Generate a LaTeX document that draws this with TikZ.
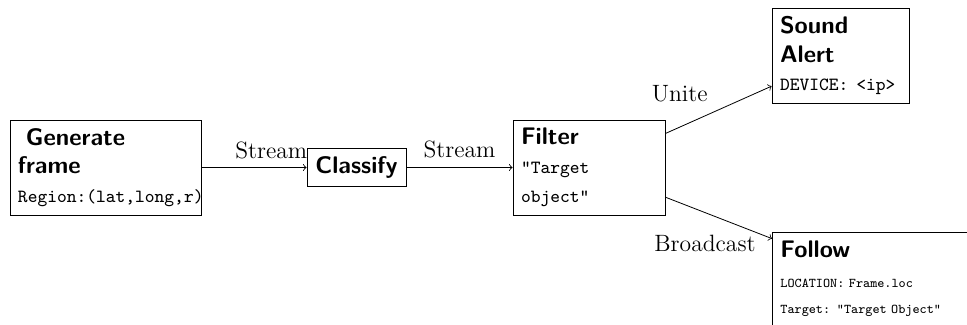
\documentclass[tikz,border=0pt]{standalone}
\newcommand\titlef{\fontsize{12}{14.4}\sffamily\bfseries\selectfont}
\newcommand\codef{\fontsize{9.3}{14.4}\ttfamily\mdseries\selectfont}
\newcommand\smallcodef{\fontsize{6.7}{13}\ttfamily\mdseries\selectfont}
\newcommand\labelfont{\fontsize{11.8}{14}\rmfamily\selectfont}
\tikzset{
  box/.style={draw, rectangle, align=left, inner xsep=4pt, inner ysep=4pt, line width=0.4pt},
  edgelabel/.style={font=\labelfont, inner sep=0pt},
}
\begin{document}
\begin{tikzpicture}[x=0.5pt, y=-0.5pt]
\path[use as bounding box, fill=white] (0,0) rectangle (967,325);
\node[box, font=\titlef, text width=87.5pt, minimum height=47.5pt] (gen) at (105.5,167.5)
  {\ Generate\\frame\\\codef Region:(lat,long,r)};
\node[box, font=\titlef, align=center, minimum width=49.5pt, minimum height=18.5pt] (cls) at (356.5,167.5) {Classify};
\node[box, font=\titlef, text width=68pt, minimum height=47.5pt] (flt) at (589,167.5)
  {Filter\\\codef "Target\\object"};
\node[box, font=\titlef, text width=60.5pt, minimum height=47.5pt] (snd) at (840.5,55.5)
  {Sound\\Alert\\\codef DEVICE: <ip>};
\node[box, text width=112pt, minimum height=53pt, anchor=north west, font=\smallcodef] (fol) at (772,232)
  {{\titlef Follow}\\[2pt]LOCATION: Frame.loc\\Target: "Target Object"\rule[-8.7pt]{0pt}{8.7pt}};
\draw[->] (gen) -- (cls) node[edgelabel, pos=1, anchor=base east, xshift=0.5pt, yshift=4.25pt] {Stream};
\draw[->] (cls) -- (flt) node[edgelabel, midway, anchor=base, yshift=4.75pt] {Stream};
\draw[->] (flt) -- (snd) node[edgelabel, midway, anchor=base east, xshift=-5.25pt, yshift=4pt] {Unite};
\draw[->] (flt) -- (fol) node[edgelabel, pos=1, anchor=base east, xshift=-8pt, yshift=-6.25pt] {Broadcast};
\end{tikzpicture}
\end{document}
